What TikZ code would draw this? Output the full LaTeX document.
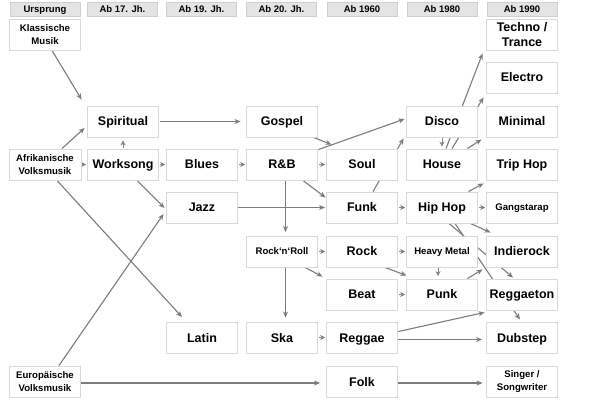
\documentclass[tikz,border=0pt]{standalone}
\usepackage{fontspec}
\setmainfont{Liberation Sans}
\usetikzlibrary{arrows.meta,calc}
\pgfdeclarelayer{background}
\pgfsetlayers{background,main}
\definecolor{boxc}{HTML}{D9D9D9}
\definecolor{hdrf}{HTML}{E4E4E4}
\definecolor{hdrb}{HTML}{CFCFCF}
\definecolor{arrc}{HTML}{7C7C7C}
\definecolor{sarrc}{HTML}{858585}
\begin{document}
\begin{tikzpicture}[x=1pt,y=-1pt,
  basebox/.style={draw=boxc, fill=white, line width=0.9pt, minimum width=71pt, minimum height=31pt, inner sep=0pt, align=center},
  box/.style={basebox, font=\bfseries\fontsize{12.5}{15}\selectfont, text height=9pt, text depth=0pt},
  mbox/.style={basebox, font=\bfseries\fontsize{12.5}{15}\selectfont},
  sbox/.style={basebox, font=\bfseries\fontsize{9.6}{12}\selectfont, text height=6.9pt, text depth=0pt},
  smbox/.style={basebox, font=\bfseries\fontsize{9.6}{12.5}\selectfont},
  hdr/.style={draw=hdrb, fill=hdrf, line width=0.6pt, minimum width=70pt, minimum height=14pt, inner sep=0pt, font=\bfseries\fontsize{9.5}{11}\selectfont, text height=6.8pt, text depth=0pt},
  arr/.style={draw=arrc, line width=1.1pt, -{Stealth[length=6pt,width=5pt,inset=1.8pt]}},
  sarr/.style={draw=sarrc, line width=1pt, -{Stealth[length=5pt,width=5pt,inset=1.5pt]}},
]
\useasboundingbox (0,0) rectangle (590,417);

% headers
\node[hdr] (h1) at (45,9) {Ursprung};
\node[hdr] (h2) at (122.5,9) {Ab 17. Jh.};
\node[hdr] (h3) at (201.5,9) {Ab 19. Jh.};
\node[hdr] (h4) at (281.5,9) {Ab 20. Jh.};
\node[hdr] (h5) at (362,9) {Ab 1960};
\node[hdr] (h6) at (442,9) {Ab 1980};
\node[hdr] (h7) at (522,9) {Ab 1990};

% column 1
\node[smbox] (klass) at (45,34.5) {Klassische\\Musik};
\node[smbox, minimum width=72pt] (afrik) at (45,164.5) {Afrikanische\\Volksmusik};
\node[smbox] (europ) at (45,381.5) {Europäische\\Volksmusik};
% column 2
\node[box] (spir) at (123,121.5) {Spiritual};
\node[box] (work) at (123,164.5) {Worksong};
% column 3
\node[box] (blues) at (202,164.5) {Blues};
\node[box] (jazz) at (202,207.5) {Jazz};
\node[box] (latin) at (202,337.5) {Latin};
% column 4
\node[box] (gospel) at (282,121.5) {Gospel};
\node[box] (rnb) at (282,164.5) {R\&B};
\node[sbox] (rnr) at (282,251.5) {Rock‘n‘Roll};
\node[box] (ska) at (282,337.5) {Ska};
% column 5
\node[box] (soul) at (362,164.5) {Soul};
\node[box] (funk) at (362,207.5) {Funk};
\node[box] (rock) at (362,251.5) {Rock};
\node[box] (beat) at (362,294.5) {Beat};
\node[box] (reggae) at (362,337.5) {Reggae};
\node[box] (folk) at (362,381.5) {Folk};
% column 6
\node[box] (disco) at (442,121.5) {Disco};
\node[box] (house) at (442,164.5) {House};
\node[box] (hiphop) at (442,207.5) {Hip Hop};
\node[sbox] (metal) at (442,251.5) {Heavy Metal};
\node[box] (punk) at (442,294.5) {Punk};
% column 7
\node[mbox] (techno) at (522,34.5) {Techno /\\Trance};
\node[box] (electro) at (522,77.5) {Electro};
\node[box] (minimal) at (522,121.5) {Minimal};
\node[box] (triphop) at (522,164.5) {Trip Hop};
\node[sbox] (gangsta) at (522,207.5) {Gangstarap};
\node[box] (indie) at (522,251.5) {Indierock};
\node[box] (reggaeton) at (522,294.5) {Reggaeton};
\node[box] (dubstep) at (522,337.5) {Dubstep};
\node[smbox] (singer) at (522,381.5) {Singer /\\Songwriter};

\begin{pgfonlayer}{background}
\fill[white] (0,0) rectangle (590,417);
\draw[arr] ($(klass.south)+(7,0)$) -- ($(spir.north west)+(-5.5,-6)$);
\draw[arr] ($(afrik.north)+(17,0)$) -- ($(spir.west)+(-2.5,6.5)$);
\draw[sarr] ($(afrik.east)+(0.5,0)$) -- ($(work.west)+(-0.8,0)$);
\draw[sarr] ($(work.north)+(0,-0.5)$) -- ($(spir.south)+(0,3)$);
\draw[sarr] ($(work.east)+(0.8,0)$) -- ($(blues.west)+(-0.8,0)$);
\draw[sarr] ($(blues.east)+(0.8,0)$) -- ($(rnb.west)+(-0.8,0)$);
\draw[arr] ($(work.south)+(14,0)$) -- ($(jazz.west)+(-1.5,0.5)$);
\draw[arr] ($(europ.north)+(14,0)$) -- ($(jazz.west)+(-2.5,6.5)$);
\draw[arr] ($(afrik.south)+(12,0)$) -- ($(latin.north)+(-20,-4.5)$);
\draw[arr] ($(spir.east)+(1,0)$) -- ($(gospel.west)+(-5.5,0)$);
\draw[arr] ($(gospel.south east)+(-4.5,0)$) -- ($(soul.north west)+(5.5,-4)$);
\draw[arr] ($(rnb.north east)+(0.5,1)$) -- ($(disco.west)+(-1.5,-2.5)$);
\draw[sarr] ($(rnb.east)+(0.8,0)$) -- ($(soul.west)+(-0.8,0)$);
\draw[arr] ($(rnb.south)+(21,0)$) -- ($(funk.north west)+(-0.5,6)$);
\draw[arr] ($(rnb.south)+(3.5,0)$) -- ($(rnr.north)+(3.5,-3.5)$);
\draw[arr] (jazz.east) -- ($(funk.west)+(-1,0)$);
\draw[arr] ($(funk.north)+(11,0)$) -- ($(disco.south west)+(-2.5,1)$);
\draw[sarr] ($(funk.east)+(0.8,0)$) -- ($(hiphop.west)+(-0.8,0)$);
\draw[sarr] (disco.south) -- ($(house.north)+(0,-2)$);
\draw[arr] ($(house.north)+(4,0)$) -- ($(techno.south west)+(-3.5,3)$);
\draw[arr] ($(house.north)+(10,0)$) -- ($(electro.south west)+(-2.5,4)$);
\draw[arr] ($(house.north east)+(-10.5,0)$) -- ($(minimal.south west)+(-4.5,2)$);
\draw[arr] ($(hiphop.north east)+(-9.5,0)$) -- ($(triphop.south west)+(-2.5,3)$);
\draw[sarr] ($(hiphop.east)+(0.8,0)$) -- ($(gangsta.west)+(-0.8,0)$);
\draw[arr] ($(hiphop.south east)+(-7.5,0)$) -- ($(indie.north west)+(4.5,-3)$);
\draw[arr] ($(hiphop.south)+(7,0)$) -- ($(reggaeton.north)+(-9,-1)$);
\draw[arr] ($(hiphop.south)+(13,0)$) -- ($(dubstep.north)+(-2,-2)$);
\draw[sarr] ($(rnr.east)+(0.8,0)$) -- ($(rock.west)+(-0.8,0)$);
\draw[arr] ($(rnr.south)+(23,0)$) -- ($(beat.north west)+(-3.5,-2)$);
\draw[sarr] ($(rock.east)+(0.8,0)$) -- ($(metal.west)+(-0.8,0)$);
\draw[arr] ($(rock.south)+(23,0)$) -- ($(punk.north west)+(0.5,-3)$);
\draw[sarr] ($(metal.south)+(-4,0)$) -- ($(punk.north)+(-4,-2.5)$);
\draw[sarr] ($(beat.east)+(0.8,0)$) -- ($(punk.west)+(-0.8,0)$);
\draw[arr] ($(punk.north east)+(-10.5,0)$) -- ($(indie.south west)+(-3.5,2)$);
\draw[sarr] ($(ska.east)+(0.8,0)$) -- ($(reggae.west)+(-0.8,0)$);
\draw[arr] ($(rnr.south)+(3.5,0)$) -- ($(ska.north)+(3.5,-4)$);
\draw[arr] ($(reggae.east)+(0.5,-6)$) -- ($(reggaeton.south west)+(-1.5,2)$);
\draw[arr] ($(reggae.east)+(0.5,2)$) -- ($(dubstep.west)+(-4,2)$);
\draw[arr] ($(europ.east)+(0,1.5)$) -- ($(folk.west)+(-6,1.5)$);
\draw[arr] ($(folk.east)+(0.5,1.5)$) -- ($(singer.west)+(-3.5,1.5)$);
\end{pgfonlayer}
\end{tikzpicture}
\end{document}
